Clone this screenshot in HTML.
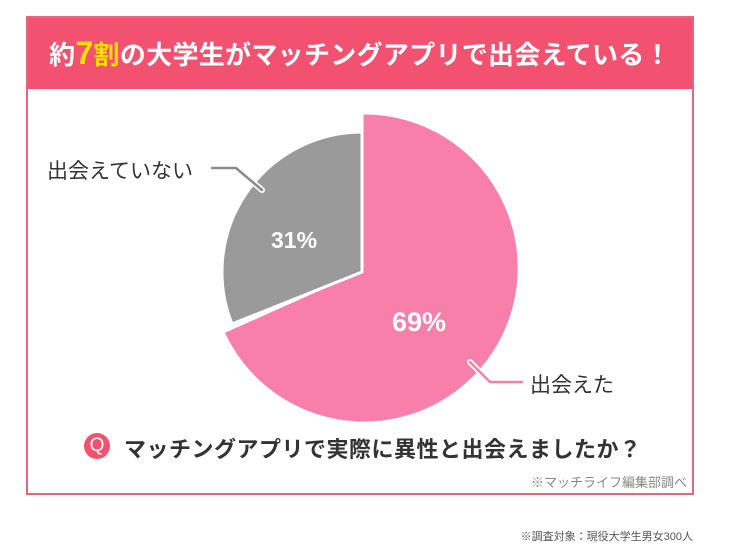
<!DOCTYPE html>
<html><head><meta charset="utf-8"><style>
body{margin:0;width:741px;height:549px;background:#fff;position:relative;overflow:hidden;font-family:"Liberation Sans","Noto Sans CJK JP",sans-serif}
.frame{position:absolute;left:26px;top:16px;width:664px;height:475px;border:2px solid #e2667f;box-sizing:content-box}
.head{position:absolute;left:0;top:0;width:664px;height:71px;background:#f2526f;color:#fff;font-weight:bold;font-size:26px;text-align:center;line-height:71px;letter-spacing:0.3px}
.y{color:#ffe100}
.t{position:absolute;white-space:nowrap;font-family:"Liberation Sans","Noto Sans CJK JP",sans-serif}
</style></head><body>
<div class="frame"><div class="head">約<span class="y" style="font-size:32px">7</span><span class="y">割</span>の大学生がマッチングアプリで出会えている！</div></div>
<svg style="position:absolute;left:0;top:0" width="741" height="549">
<path d="M362,270 L362,113 A155,155 0 1 1 223,332 Z" fill="#f87fa9" stroke="#fff" stroke-width="3" stroke-linejoin="round"/>
<path d="M362,272 L232,324 A140,140 0 0 1 362,132 Z" fill="#9a9a9a" stroke="#fff" stroke-width="3" stroke-linejoin="round"/>
<polyline points="212,168 236,168 262,190" fill="none" stroke="#fff" stroke-width="6" stroke-linecap="round" stroke-linejoin="round"/>
<polyline points="212,168 236,168 262,190" fill="none" stroke="#8a8a8a" stroke-width="2.5" stroke-linecap="round" stroke-linejoin="round"/>
<polyline points="470,362 490,382 522,382" fill="none" stroke="#fff" stroke-width="6" stroke-linecap="round" stroke-linejoin="round"/>
<polyline points="470,362 490,382 522,382" fill="none" stroke="#f87fa9" stroke-width="2.5" stroke-linecap="round" stroke-linejoin="round"/>
<circle cx="97" cy="446" r="13" fill="#f2526f"/>
</svg>
<div class="t" style="left:47px;top:155px;font-size:21px;color:#333">出会えていない</div>
<div class="t" style="left:271px;top:227px;font-size:23px;color:#fff;font-weight:bold">31%</div>
<div class="t" style="left:392px;top:307px;font-size:27px;color:#fff;font-weight:bold">69%</div>
<div class="t" style="left:530px;top:369px;font-size:21px;color:#333">出会えた</div>
<div class="t" style="left:89px;top:435px;font-size:19px;color:#fff;width:16px;text-align:center">Q</div>
<div class="t" style="left:124px;top:432px;font-size:22px;color:#333;font-weight:bold;letter-spacing:0.5px">マッチングアプリで実際に異性と出会えましたか？</div>
<div class="t" style="right:54px;top:472px;font-size:13px;color:#888">※マッチライフ編集部調べ</div>
<div class="t" style="right:48px;top:528px;font-size:11px;color:#555">※調査対象：現役大学生男女300人</div>
</body></html>
